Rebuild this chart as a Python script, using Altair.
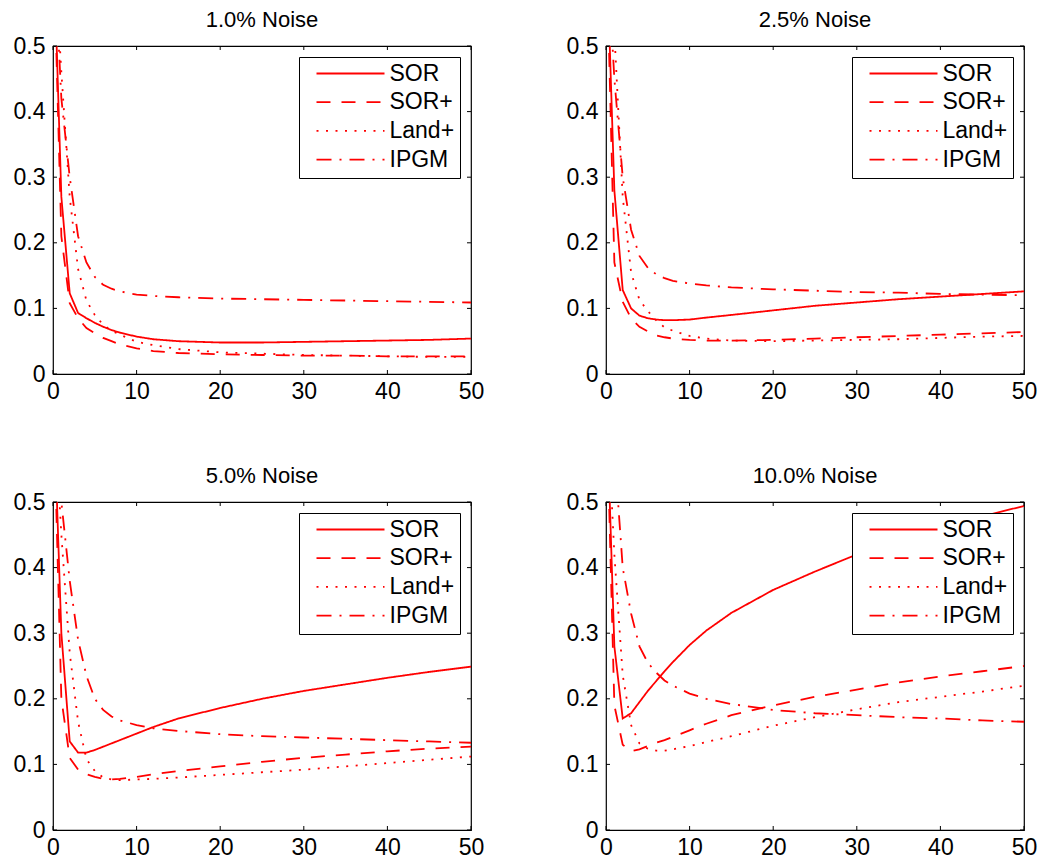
import altair as alt
import pandas as pd

# ---------------- data ----------------
iters = [0, 1, 2, 3, 4, 5, 6, 7, 8, 10, 12, 15, 20, 25, 30, 35, 40, 45, 50]
methods = ["SOR", "SOR+", "Land+", "IPGM"]
titles = ["1.0% Noise", "2.5% Noise", "5.0% Noise", "10.0% Noise"]

# 1.0% noise
sor_10 = [0.68, 0.27, 0.123, 0.093, 0.085, 0.078, 0.072, 0.067, 0.063, 0.057, 0.053, 0.050, 0.048, 0.048, 0.049, 0.050, 0.051, 0.052, 0.054]
sorp_10 = [0.68, 0.21, 0.108, 0.085, 0.070, 0.062, 0.055, 0.050, 0.045, 0.039, 0.035, 0.032, 0.030, 0.029, 0.028, 0.028, 0.027, 0.027, 0.027]
land_10 = [0.68, 0.46, 0.27, 0.16, 0.112, 0.090, 0.075, 0.066, 0.060, 0.049, 0.044, 0.038, 0.033, 0.031, 0.029, 0.028, 0.027, 0.026, 0.026]
ipgm_10 = [0.68, 0.42, 0.30, 0.21, 0.17, 0.148, 0.136, 0.130, 0.126, 0.121, 0.119, 0.117, 0.115, 0.114, 0.113, 0.112, 0.111, 0.110, 0.109]

# 2.5% noise
sor_25 = [0.68, 0.28, 0.128, 0.100, 0.089, 0.085, 0.083, 0.082, 0.082, 0.083, 0.086, 0.090, 0.097, 0.104, 0.109, 0.114, 0.118, 0.122, 0.126]
sorp_25 = [0.68, 0.17, 0.110, 0.085, 0.072, 0.065, 0.059, 0.056, 0.054, 0.052, 0.051, 0.051, 0.052, 0.054, 0.056, 0.058, 0.060, 0.062, 0.064]
land_25 = [0.68, 0.52, 0.27, 0.155, 0.113, 0.096, 0.082, 0.071, 0.066, 0.058, 0.054, 0.051, 0.050, 0.051, 0.052, 0.053, 0.055, 0.057, 0.058]
ipgm_25 = [0.68, 0.45, 0.30, 0.22, 0.18, 0.162, 0.152, 0.146, 0.142, 0.138, 0.135, 0.132, 0.129, 0.127, 0.125, 0.124, 0.122, 0.121, 0.120]

# 5.0% noise
sor_50 = [0.68, 0.30, 0.135, 0.118, 0.118, 0.122, 0.127, 0.132, 0.137, 0.147, 0.157, 0.170, 0.186, 0.200, 0.212, 0.222, 0.232, 0.241, 0.249]
sorp_50 = [0.68, 0.20, 0.110, 0.092, 0.085, 0.081, 0.078, 0.077, 0.078, 0.081, 0.085, 0.090, 0.097, 0.104, 0.110, 0.115, 0.120, 0.124, 0.127]
land_50 = [0.68, 0.45, 0.27, 0.165, 0.108, 0.090, 0.080, 0.077, 0.076, 0.077, 0.078, 0.080, 0.084, 0.088, 0.092, 0.097, 0.102, 0.107, 0.112]
ipgm_50 = [0.68, 0.50, 0.38, 0.29, 0.235, 0.200, 0.183, 0.173, 0.167, 0.160, 0.155, 0.151, 0.146, 0.143, 0.141, 0.139, 0.137, 0.135, 0.133]

# 10.0% noise
sor_100 = [0.68, 0.28, 0.170, 0.178, 0.195, 0.212, 0.227, 0.242, 0.256, 0.282, 0.304, 0.331, 0.366, 0.394, 0.420, 0.442, 0.461, 0.478, 0.494]
sorp_100 = [0.68, 0.19, 0.130, 0.120, 0.123, 0.128, 0.133, 0.137, 0.142, 0.152, 0.162, 0.175, 0.190, 0.203, 0.214, 0.225, 0.234, 0.242, 0.250]
land_100 = [0.68, 0.42, 0.236, 0.160, 0.132, 0.124, 0.121, 0.121, 0.123, 0.128, 0.134, 0.143, 0.159, 0.172, 0.184, 0.195, 0.203, 0.211, 0.220]
ipgm_100 = [0.68, 0.58, 0.40, 0.33, 0.28, 0.255, 0.240, 0.228, 0.220, 0.208, 0.200, 0.192, 0.183, 0.178, 0.175, 0.172, 0.170, 0.167, 0.165]

x_ticks = [0, 10, 20, 30, 40, 50]
y_ticks = [0, 0.1, 0.2, 0.3, 0.4, 0.5]

# ---------------- style ----------------
W, H = 418, 328
FONT = "Liberation Sans"
RED = "#ff0000"
TICK = 4
dashes = [[1, 0], [14, 11], [2, 7.5], [15, 8, 2, 8]]


def panel(title, series):
    rows = []
    for m, vals in zip(methods, series):
        for x, v in zip(iters, vals):
            rows.append({"iter": x, "err": v, "method": m})
    df = pd.DataFrame(rows)
    xs = alt.Scale(domain=[0, 50], nice=False, zero=False)
    ys = alt.Scale(domain=[0, 0.5], nice=False, zero=False)
    x_axis = alt.Axis(values=x_ticks, ticks=False, domain=False, grid=False,
                      labelFontSize=23, labelFont=FONT, labelColor="black",
                      labelPadding=6, labelFlush=False, format="d")
    y_axis = alt.Axis(values=y_ticks, ticks=False, domain=False, grid=False,
                      labelFontSize=23, labelFont=FONT, labelColor="black",
                      labelPadding=8, labelFlush=False, format="~g")

    lines = alt.Chart(df).mark_line(clip=True, strokeWidth=1.8, color=RED).encode(
        x=alt.X("iter:Q", scale=xs, title=None, axis=x_axis),
        y=alt.Y("err:Q", scale=ys, title=None, axis=y_axis),
        strokeDash=alt.StrokeDash(
            "method:N",
            scale=alt.Scale(domain=methods, range=dashes),
            legend=alt.Legend(title=None, orient="top-right", offset=11,
                              symbolType="stroke", symbolSize=4624,
                              symbolStrokeWidth=1.8, symbolStrokeColor=RED,
                              clipHeight=22, rowPadding=5.7, padding=5.5,
                              symbolOffset=11, labelOffset=4,
                              labelFontSize=23, labelFont=FONT, labelColor="black",
                              strokeColor="black", fillColor="white", labelLimit=0),
        ),
    )

    xt = pd.DataFrame({"iter": x_ticks})
    yt = pd.DataFrame({"err": y_ticks})
    tick_style = dict(color="black", strokeWidth=1)
    bottom = alt.Chart(xt).mark_rule(**tick_style).encode(
        x=alt.X("iter:Q", scale=xs, title=None, axis=x_axis), y=alt.value(H), y2=alt.value(H - TICK))
    top = alt.Chart(xt).mark_rule(**tick_style).encode(
        x=alt.X("iter:Q", scale=xs, title=None, axis=x_axis), y=alt.value(0), y2=alt.value(TICK))
    left = alt.Chart(yt).mark_rule(**tick_style).encode(
        y=alt.Y("err:Q", scale=ys, title=None, axis=y_axis), x=alt.value(0), x2=alt.value(TICK))
    right = alt.Chart(yt).mark_rule(**tick_style).encode(
        y=alt.Y("err:Q", scale=ys, title=None, axis=y_axis), x=alt.value(W), x2=alt.value(W - TICK))

    return alt.layer(lines, bottom, top, left, right).properties(
        width=W, height=H,
        title=alt.TitleParams(title, fontSize=22, font=FONT, fontWeight="normal",
                              anchor="middle", baseline="alphabetic", offset=-14,
                              color="black"),
    )


p1 = panel(titles[0], [sor_10, sorp_10, land_10, ipgm_10])
p2 = panel(titles[1], [sor_25, sorp_25, land_25, ipgm_25])
p3 = panel(titles[2], [sor_50, sorp_50, land_50, ipgm_50])
p4 = panel(titles[3], [sor_100, sorp_100, land_100, ipgm_100])


def indep(c):
    return c.resolve_scale(x="independent", y="independent", strokeDash="independent") \
            .resolve_legend(strokeDash="independent")


row1 = indep(alt.hconcat(p1, p2, spacing=80))
row2 = indep(alt.hconcat(p3, p4, spacing=80))
chart = indep(alt.vconcat(row1, row2, spacing=60)).properties(
    padding={"left": 12, "top": 8, "right": 5, "bottom": 5},
    background="white",
).configure_view(stroke="black", strokeWidth=1.2)

chart.save("out.html", embed_options={"renderer": "svg", "actions": False})
